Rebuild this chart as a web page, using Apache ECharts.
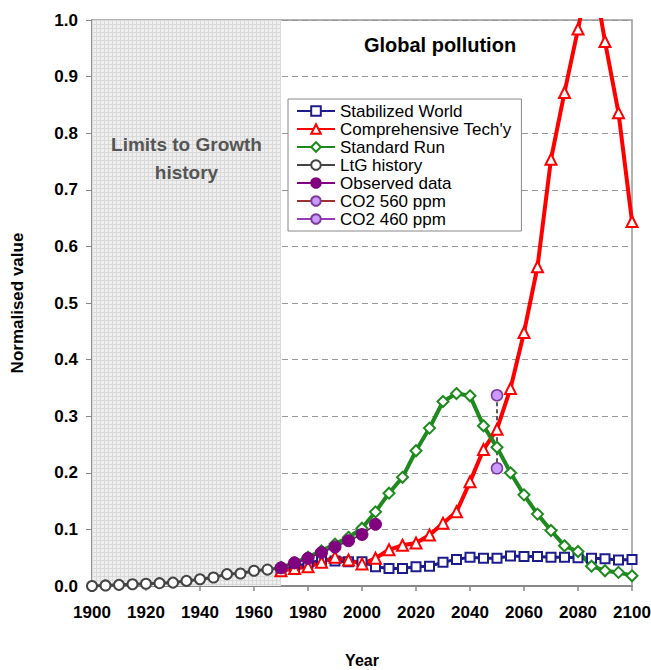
<!DOCTYPE html>
<html>
<head>
<meta charset="utf-8">
<script src="https://cdn.jsdelivr.net/npm/echarts@6/dist/echarts.min.js"></script>
<style>
html,body{margin:0;padding:0;background:#fff;}
#chart{width:651px;height:670px;}
</style>
</head>
<body>
<div id="chart"></div>
<script>
// ---------- data ----------
const historyYears = [1900,1905,1910,1915,1920,1925,1930,1935,1940,1945,1950,1955,1960,1965,1970];
const ltgHistory   = [0.000,0.001,0.002,0.003,0.004,0.005,0.006,0.009,0.012,0.015,0.021,0.022,0.027,0.029,0.032];

const modelYears = [1970,1975,1980,1985,1990,1995,2000,2005,2010,2015,2020,2025,2030,2035,2040,2045,2050,2055,2060,2065,2070,2075,2080,2085,2090,2095,2100];
const stabilizedWorld = [0.028,0.034,0.040,0.046,0.044,0.043,0.043,0.034,0.031,0.031,0.034,0.035,0.042,0.047,0.051,0.049,0.049,0.053,0.052,0.052,0.051,0.051,0.050,0.049,0.048,0.046,0.047];
const comprehensiveTech = [0.027,0.031,0.034,0.042,0.051,0.046,0.039,0.049,0.064,0.072,0.076,0.090,0.111,0.131,0.184,0.241,0.277,0.349,0.448,0.564,0.754,0.872,0.984,1.100,0.962,0.836,0.644];
const standardRun = [0.033,0.041,0.051,0.062,0.074,0.086,0.102,0.131,0.164,0.192,0.239,0.279,0.326,0.340,0.336,0.283,0.245,0.200,0.161,0.127,0.098,0.071,0.061,0.035,0.027,0.024,0.018];

const observedYears = [1970,1975,1980,1985,1990,1995,2000,2005];
const observedData  = [0.032,0.041,0.049,0.059,0.069,0.080,0.091,0.109];

const co2Year = 2050;
const co2_560 = 0.337;
const co2_460 = 0.208;

const xTicks = {min:1900, max:2100, interval:20};
const yTicks = {min:0, max:1, interval:0.1};
const shadedSpan = [1900, 1970];

const pair = (xs, ys) => xs.map((x, i) => [x, ys[i]]);

// ---------- pattern for shaded history region ----------
const pc = document.createElement('canvas');
pc.width = 4; pc.height = 4;
const pctx = pc.getContext('2d');
pctx.fillStyle = '#efefef'; pctx.fillRect(0,0,4,4);
pctx.fillStyle = '#d9d9d9'; pctx.fillRect(0,0,4,1); pctx.fillRect(0,0,1,4);

const FONT = 'Arial, "Liberation Sans", sans-serif';
const chart = echarts.init(document.getElementById('chart'), null, {renderer:'svg'});

chart.setOption({
  animation:false,
  backgroundColor:'#fff',
  textStyle:{fontFamily:FONT},
  grid:{left:92, right:19, top:20, bottom:84, outerBoundsMode:'none', containLabel:false,
        show:true, borderColor:'#999', borderWidth:1.5, backgroundColor:'transparent'},
  graphic:[{
    type:'text', x:440, y:45, z:100,
    style:{text:'Global pollution', font:'bold 20px ' + FONT, fill:'#000', textAlign:'center', textVerticalAlign:'middle'}
  }],
  legend:{
    orient:'vertical', left:288, top:99,
    padding:[3,10,3,8], itemGap:0, itemWidth:38, itemHeight:12,
    backgroundColor:'#fff', borderColor:'#888', borderWidth:1,
    textStyle:{fontSize:17, lineHeight:18, color:'#000', fontFamily:FONT},
    data:['Stabilized World',"Comprehensive Tech'y",'Standard Run','LtG history','Observed data','CO2 560 ppm','CO2 460 ppm']
  },
  xAxis:{
    type:'value', min:xTicks.min, max:xTicks.max, interval:xTicks.interval,
    name:'Year', nameLocation:'middle', nameGap:66,
    nameTextStyle:{fontSize:16, fontWeight:'bold', color:'#000'},
    axisLine:{lineStyle:{color:'#888', width:2}},
    axisTick:{show:true, length:5, lineStyle:{color:'#888', width:1.5}},
    axisLabel:{fontSize:17, fontWeight:'bold', color:'#000', margin:18, formatter:v=>String(v)},
    splitLine:{show:false}
  },
  yAxis:{
    type:'value', min:yTicks.min, max:yTicks.max, interval:yTicks.interval,
    name:'Normalised value', nameLocation:'middle', nameGap:66,
    nameTextStyle:{fontSize:17, fontWeight:'bold', color:'#000'},
    axisLine:{show:true, lineStyle:{color:'#888', width:1.5}},
    axisTick:{show:true, length:6, lineStyle:{color:'#888'}},
    axisLabel:{fontSize:17, fontWeight:'bold', color:'#000', margin:14, formatter:v=>v.toFixed(1)},
    splitLine:{show:true, lineStyle:{color:'#999', type:[6,4], width:1}}
  },
  series:[
    {
      name:'shade', type:'line', data:[], z:-1, silent:true,
      markArea:{
        silent:true,
        itemStyle:{color:{image:pc, repeat:'repeat'}},
        label:{show:true, position:'insideTop', distance:110,
          formatter:'Limits to Growth\nhistory', fontSize:19, fontWeight:'bold', color:'#555', lineHeight:28, fontFamily:FONT},
        data:[[{xAxis:shadedSpan[0]},{xAxis:shadedSpan[1]}]]
      }
    },
    {
      name:'Stabilized World', type:'line', data:pair(modelYears, stabilizedWorld),
      symbol:'rect', symbolSize:9, showAllSymbol:true,
      lineStyle:{color:'#1c1c8c', width:3},
      itemStyle:{color:'#fff', borderColor:'#1c1c8c', borderWidth:2}
    },
    {
      name:"Comprehensive Tech'y", type:'line', data:pair(modelYears, comprehensiveTech),
      symbol:'triangle', symbolSize:11, showAllSymbol:true,
      lineStyle:{color:'#ff0000', width:4},
      itemStyle:{color:'#fff', borderColor:'#ff0000', borderWidth:2}
    },
    {
      name:'Standard Run', type:'line', data:pair(modelYears, standardRun),
      symbol:'diamond', symbolSize:11, showAllSymbol:true,
      lineStyle:{color:'#1e8a1e', width:4},
      itemStyle:{color:'#fff', borderColor:'#1e8a1e', borderWidth:2}
    },
    {
      name:'LtG history', type:'line', data:pair(historyYears, ltgHistory),
      symbol:'circle', symbolSize:10, showAllSymbol:true,
      lineStyle:{color:'#444', width:3},
      itemStyle:{color:'#fff', borderColor:'#444', borderWidth:2}
    },
    {
      name:'Observed data', type:'line', data:pair(observedYears, observedData),
      symbol:'circle', symbolSize:12, showAllSymbol:true,
      lineStyle:{color:'#800080', width:1.5},
      itemStyle:{color:'#800080', borderColor:'#800080', borderWidth:1}
    },
    {
      name:'co2 range', type:'line', data:[[co2Year, co2_560],[co2Year, co2_460]],
      symbol:'none', silent:true,
      lineStyle:{color:'#222', width:1.5, type:[4,3]}
    },
    {
      name:'CO2 560 ppm', type:'line', data:[[co2Year, co2_560]],
      symbol:'circle', symbolSize:11,
      lineStyle:{color:'#a03030', width:1.5},
      itemStyle:{color:'#cc99ff', borderColor:'#7a3a9a', borderWidth:1.5}
    },
    {
      name:'CO2 460 ppm', type:'line', data:[[co2Year, co2_460]],
      symbol:'circle', symbolSize:11,
      lineStyle:{color:'#9a3ab8', width:1.5},
      itemStyle:{color:'#cc99ff', borderColor:'#7a3a9a', borderWidth:1.5}
    }
  ]
});
</script>
</body>
</html>
